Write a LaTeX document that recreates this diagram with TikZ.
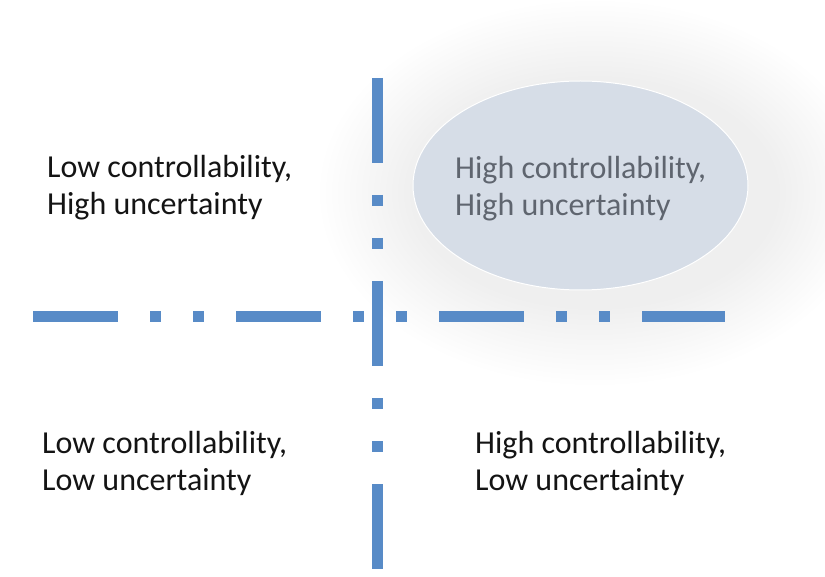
\documentclass[tikz,border=0pt]{standalone}
\usepackage{fontspec}
\setmainfont{Carlito}
\usetikzlibrary{shapes.geometric}
\definecolor{axisblue}{RGB}{88,139,199}
\definecolor{ellfill}{RGB}{214,221,231}
\definecolor{elltext}{RGB}{95,101,111}
\definecolor{glowc}{RGB}{60,75,95}
\definecolor{txt}{RGB}{20,20,20}
\begin{document}
\begin{tikzpicture}[x=1pt,y=-1pt,
  axis/.style={draw=axisblue,line width=10.5pt,line cap=butt,
    dash pattern=on 85pt off 32pt on 11pt off 32pt on 11pt off 32pt},
  label/.style={anchor=base west,inner sep=0pt,align=left,text=txt,
    font=\fontsize{32}{37}\selectfont},
  glowring/.style={fill=glowc,fill opacity=0.0035},
]
\useasboundingbox[fill=white] (0,0) rectangle (825,577);
% soft glow behind the ellipse
\foreach \i in {0,...,15}{
  \fill[glowring] (595,193) ellipse [x radius={275-6*\i}, y radius={192-5*\i}];
}
% ellipse
\node (hh) [ellipse, minimum width=335pt, minimum height=209pt, fill=ellfill,
  draw=white, line width=1pt, inner sep=0pt] at (580.5,185.5) {};
% axes
\coordinate (vtop) at (377.5,78);
\coordinate (vbot) at (377.5,569);
\coordinate (hl) at (33,316.5);
\coordinate (hr) at (725,316.5);
\draw[axis] (vtop) -- (vbot);
\draw[axis] (hl) -- (hr);
% labels (anchor = baseline of the last line)
\node (tl) [label] at (47,214.5) {Low controllability,\\High uncertainty};
\node (hhtext) [label,text=elltext] at (455,215.5) {High controllability,\\High uncertainty};
\node (bl) [label] at (42,490.5) {Low controllability,\\Low uncertainty};
\node (br) [label] at (475,490.5) {High controllability,\\Low uncertainty};
\end{tikzpicture}
\end{document}
